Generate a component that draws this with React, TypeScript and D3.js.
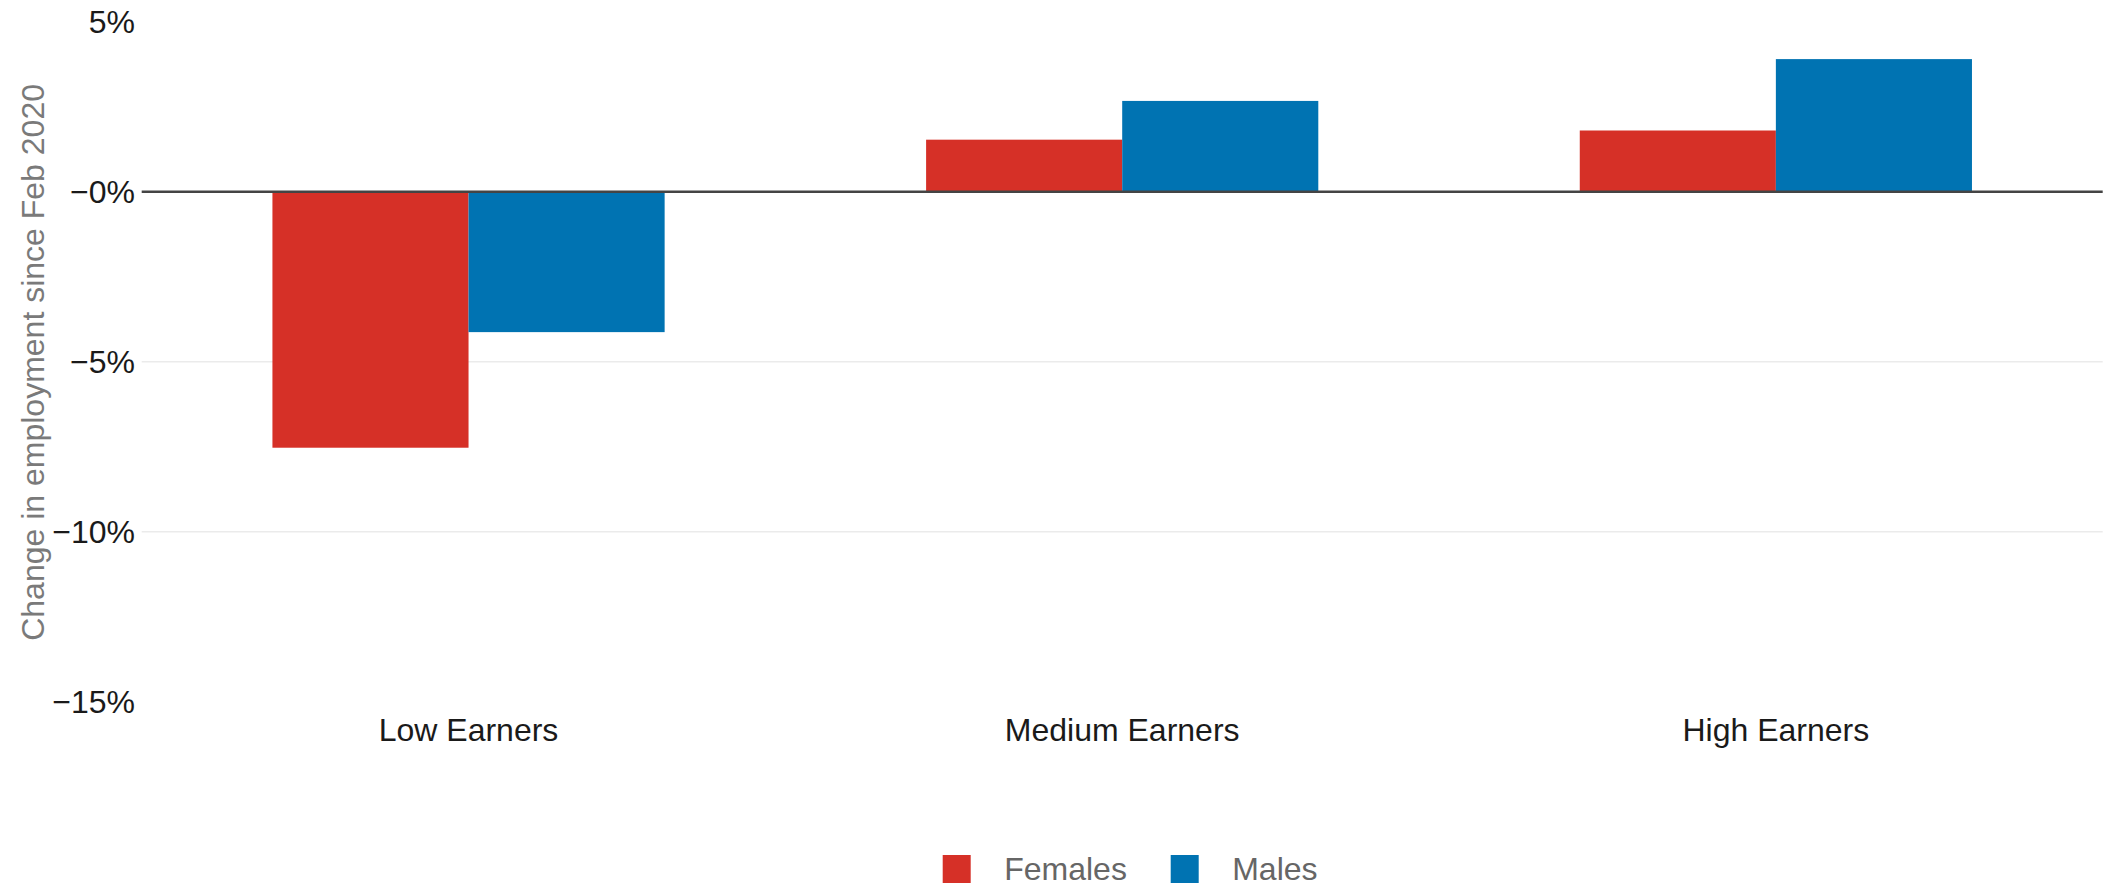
import React from "react";
import * as d3 from "d3";

const categories = ["Low Earners", "Medium Earners", "High Earners"];
const seriesNames = ["Females", "Males"];
const females = [-7.53, 1.53, 1.8];
const males = [-4.13, 2.67, 3.9];
const yTicks = [5, 0, -5, -10, -15];
const yTickLabels = ["5%", "\u22120%", "\u22125%", "\u221210%", "\u221215%"];
const gridTicks = [-5, -10];
const colors = ["#D63027", "#0073B2"];

const W = 2108;
const H = 886;

export default function App() {
  const x = d3.scaleBand<string>().domain(categories).range([141.7, 2102.7]).padding(0);
  const y = d3.scaleLinear().domain([-15, 5]).range([701.7, 21.7]);
  const groupW = x.step() * 0.6;
  const xs = d3.scaleBand<string>().domain(seriesNames).range([0, groupW]).padding(0);
  const series = [females, males];
  const font = "Liberation Sans, Arial, sans-serif";

  return (
    <svg width={W} height={H} style={{ position: "absolute", left: 0, top: 0, background: "#fff" }} fontFamily={font}>
      {gridTicks.map((t) => (
        <line key={t} x1={x.range()[0]} x2={x.range()[1]} y1={y(t)} y2={y(t)} stroke="#ebebeb" strokeWidth={1.6} />
      ))}
      {categories.map((c, i) =>
        seriesNames.map((s, j) => {
          const v = series[j][i];
          const x0 = (x(c) as number) + x.bandwidth() / 2 - groupW / 2 + (xs(s) as number);
          return (
            <rect
              key={c + s}
              x={x0}
              width={xs.bandwidth()}
              y={Math.min(y(v), y(0))}
              height={Math.abs(y(v) - y(0))}
              fill={colors[j]}
            />
          );
        })
      )}
      <line x1={x.range()[0]} x2={x.range()[1]} y1={y(0)} y2={y(0)} stroke="#444" strokeWidth={2.5} />
      {yTicks.map((t, i) => (
        <text key={t} x={135} y={y(t)} dy="0.35em" textAnchor="end" fontSize={32} fill="#1a1a1a">
          {yTickLabels[i]}
        </text>
      ))}
      {categories.map((c) => (
        <text key={c} x={(x(c) as number) + x.bandwidth() / 2} y={741} textAnchor="middle" fontSize={32} fill="#1a1a1a">
          {c}
        </text>
      ))}
      <text
        transform={`translate(44, ${362.4}) rotate(-90)`}
        textAnchor="middle"
        fontSize={32}
        fill="#7a7a7a"
      >
        Change in employment since Feb 2020
      </text>
      {seriesNames.map((s, j) => {
        const sx = [942.7, 1170.7][j];
        return (
          <g key={s}>
            <rect x={sx} y={855} width={28} height={28} fill={colors[j]} />
            <text x={sx + 61.5} y={869} dy="0.35em" fontSize={32} fill="#666">
              {s}
            </text>
          </g>
        );
      })}
    </svg>
  );
}
